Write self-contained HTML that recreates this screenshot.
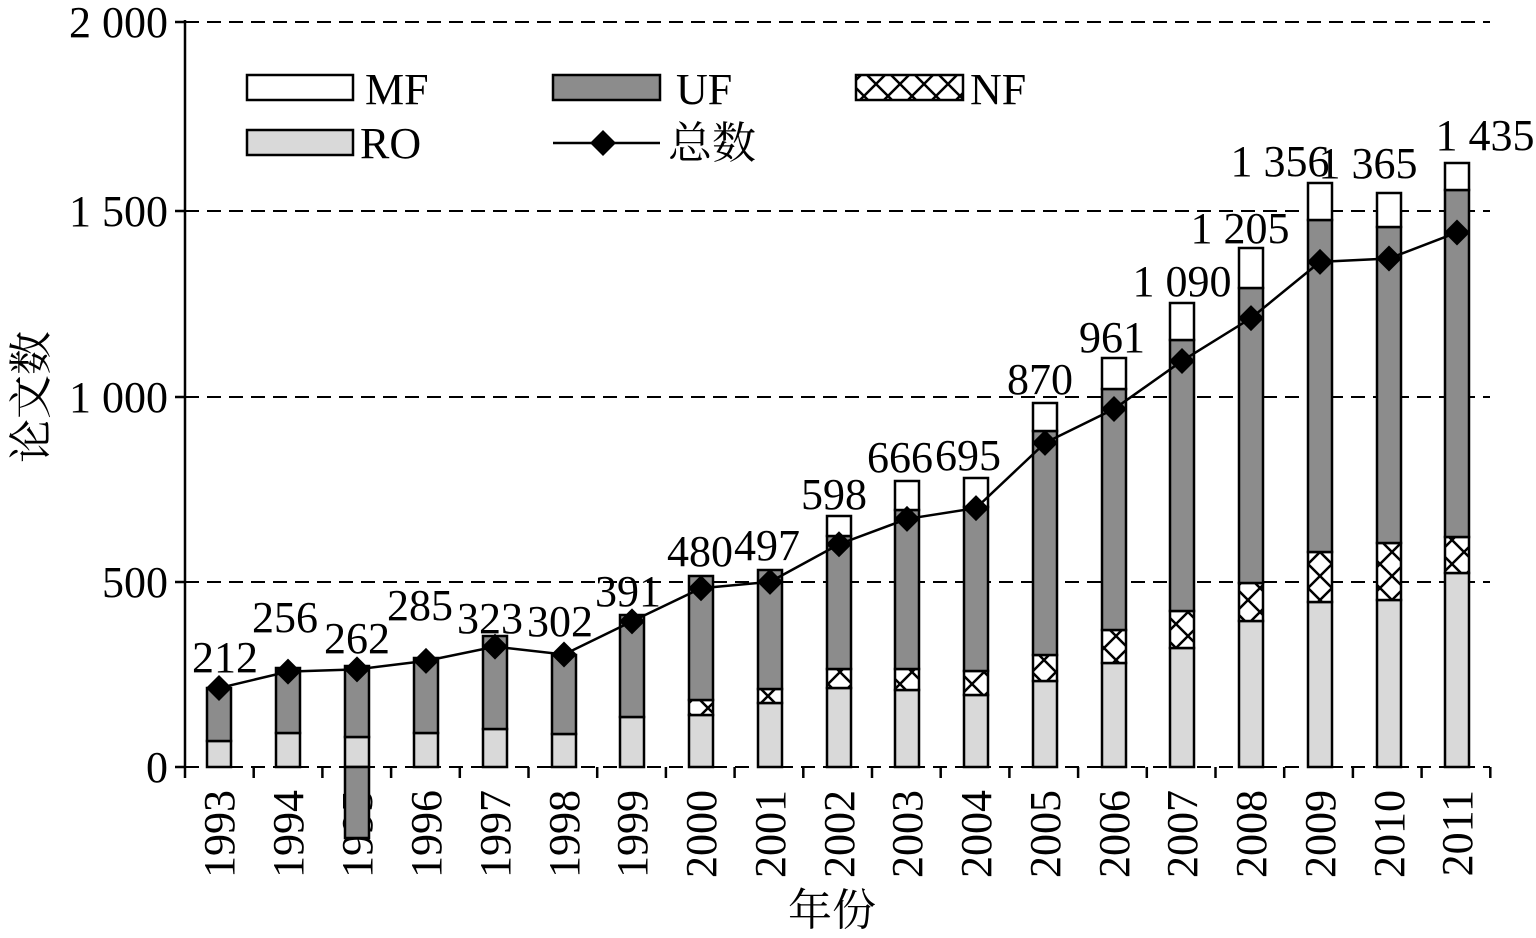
<!DOCTYPE html>
<html><head><meta charset="utf-8"><style>
html,body{margin:0;padding:0;background:#fff;}
svg{display:block;font-family:"Liberation Serif","Noto Serif CJK SC",serif;}
</style></head><body>
<svg id="s" width="1536" height="938" viewBox="0 0 1536 938" xmlns="http://www.w3.org/2000/svg">
<defs>
<pattern id="x" patternUnits="userSpaceOnUse" width="24" height="24" x="0" y="0">
<rect width="24" height="24" fill="#fff"/>
<path d="M0 0L24 24M24 0L0 24" stroke="#000" stroke-width="2.5"/>
</pattern>
</defs>
<g stroke="#000" stroke-width="2" stroke-dasharray="14 8">
<line x1="185" y1="22" x2="1490" y2="22"/>
<line x1="185" y1="211" x2="1490" y2="211"/>
<line x1="185" y1="397" x2="1490" y2="397"/>
<line x1="185" y1="582" x2="1490" y2="582"/>
<line x1="185" y1="767" x2="1490" y2="767"/>
</g>
<g id="bars"></g>
<g stroke="#000" stroke-width="2.5">
<line x1="185" y1="20" x2="185" y2="768"/>
<line x1="175" y1="22" x2="185" y2="22"/>
<line x1="175" y1="211" x2="185" y2="211"/>
<line x1="175" y1="397" x2="185" y2="397"/>
<line x1="175" y1="582" x2="185" y2="582"/>
<line x1="175" y1="767" x2="185" y2="767"/>
</g>
<g id="ticks" stroke="#000" stroke-width="2.5"></g>
<polyline id="ln" fill="none" stroke="#000" stroke-width="2.5"/>
<g id="dm"></g>
<g font-size="44" text-anchor="end" fill="#000">
<text x="168" y="37">2 000</text><text x="168" y="226">1 500</text><text x="168" y="412">1 000</text><text x="168" y="597">500</text><text x="168" y="782">0</text>
</g>
<g font-size="44" text-anchor="middle" fill="#000">
<text x="225" y="672">212</text><text x="285" y="632">256</text><text x="357" y="653">262</text><text x="420" y="620">285</text><text x="490" y="633">323</text><text x="560" y="636">302</text><text x="628" y="606">391</text><text x="700" y="566">480</text><text x="767" y="560">497</text><text x="834" y="509">598</text><text x="900" y="472">666</text><text x="968" y="470">695</text><text x="1040" y="394">870</text><text x="1112" y="352">961</text><text x="1182" y="296">1 090</text><text x="1240" y="243">1 205</text><text x="1280" y="176">1 356</text><text x="1368" y="178">1 365</text><text x="1485" y="150">1 435</text>
</g>
<g font-size="44" text-anchor="end" fill="#000">
<text transform="translate(234,790) rotate(-90)">1993</text>
<text transform="translate(303,790) rotate(-90)">1994</text>
<text transform="translate(372,790) rotate(-90)">1995</text>
<text transform="translate(441,790) rotate(-90)">1996</text>
<text transform="translate(510,790) rotate(-90)">1997</text>
<text transform="translate(579,790) rotate(-90)">1998</text>
<text transform="translate(647,790) rotate(-90)">1999</text>
<text transform="translate(716,790) rotate(-90)">2000</text>
<text transform="translate(785,790) rotate(-90)">2001</text>
<text transform="translate(854,790) rotate(-90)">2002</text>
<text transform="translate(922,790) rotate(-90)">2003</text>
<text transform="translate(991,790) rotate(-90)">2004</text>
<text transform="translate(1060,790) rotate(-90)">2005</text>
<text transform="translate(1129,790) rotate(-90)">2006</text>
<text transform="translate(1197,790) rotate(-90)">2007</text>
<text transform="translate(1266,790) rotate(-90)">2008</text>
<text transform="translate(1335,790) rotate(-90)">2009</text>
<text transform="translate(1404,790) rotate(-90)">2010</text>
<text transform="translate(1472,790) rotate(-90)">2011</text>
</g>
<rect x="345" y="767" width="24" height="71" fill="#8c8c8c" stroke="#000" stroke-width="2.5"/>
<text x="832" y="925" font-size="44" text-anchor="middle">年份</text>
<text transform="translate(46,397) rotate(-90)" font-size="44" text-anchor="middle">论文数</text>
<g stroke="#000" stroke-width="2.5">
<rect x="247" y="75" width="106" height="25" fill="#fff"/>
<rect x="553" y="75" width="107" height="25" fill="#8c8c8c"/>
<rect x="856" y="75" width="107" height="25" fill="url(#x)"/>
<rect x="247" y="130" width="106" height="25" fill="#d9d9d9"/>
<line x1="553" y1="143" x2="660" y2="143"/>
</g>
<path d="M603 130L616 143L603 156L590 143Z" fill="#000"/>
<g font-size="44" fill="#000">
<text x="365" y="104">MF</text><text x="676" y="104">UF</text><text x="970" y="104">NF</text><text x="360" y="158">RO</text><text x="668" y="158">总数</text>
</g>
</svg>
<script>
var xs=[219,288,357,426,495,564,632,701,770,839,907,976,1045,1114,1182,1251,1320,1389,1457];
var d=[[741,741,688,688],[733,733,668,668],[737,737,666,666],[733,733,658,658],[729,729,636,636],[734,734,655,655],[717,717,615,615],[715,700,576,576],[703,689,570,570],[688,669,536,516],[690,669,510,481],[695,671,507,478],[681,655,431,403],[663,630,389,358],[648,611,340,303],[621,583,288,248],[602,552,220,183],[600,543,227,193],[573,537,190,163]];
var v=[212,256,262,285,323,302,391,480,497,598,666,695,870,961,1090,1205,1356,1365,1435];
var ns="http://www.w3.org/2000/svg",g=document.getElementById('bars');
function r(x,y1,y2,f){if(y2-y1<0.5)return;var e=document.createElementNS(ns,'rect');e.setAttribute('x',x-12);e.setAttribute('y',y1);e.setAttribute('width',24);e.setAttribute('height',y2-y1);e.setAttribute('fill',f);e.setAttribute('stroke','#000');e.setAttribute('stroke-width','2.5');g.appendChild(e);}
var pts=[],dm=document.getElementById('dm'),tk=document.getElementById('ticks');
xs.forEach(function(x,i){var b=d[i];r(x,b[0],767,'#d9d9d9');r(x,b[1],b[0],'url(#x)');r(x,b[2],b[1],'#8c8c8c');r(x,b[3],b[2],'#fff');
var y=767-v[i]*0.3725;pts.push(x+','+y);var p=document.createElementNS(ns,'path');p.setAttribute('d','M'+x+' '+(y-13)+'L'+(x+13)+' '+y+'L'+x+' '+(y+13)+'L'+(x-13)+' '+y+'Z');dm.appendChild(p);});
for(var k=0;k<=19;k++){var tx=185+k*68.7;var l=document.createElementNS(ns,'line');l.setAttribute('x1',tx);l.setAttribute('x2',tx);l.setAttribute('y1',767);l.setAttribute('y2',778);tk.appendChild(l);}
document.getElementById('ln').setAttribute('points',pts.join(' '));
</script>
</body></html>
